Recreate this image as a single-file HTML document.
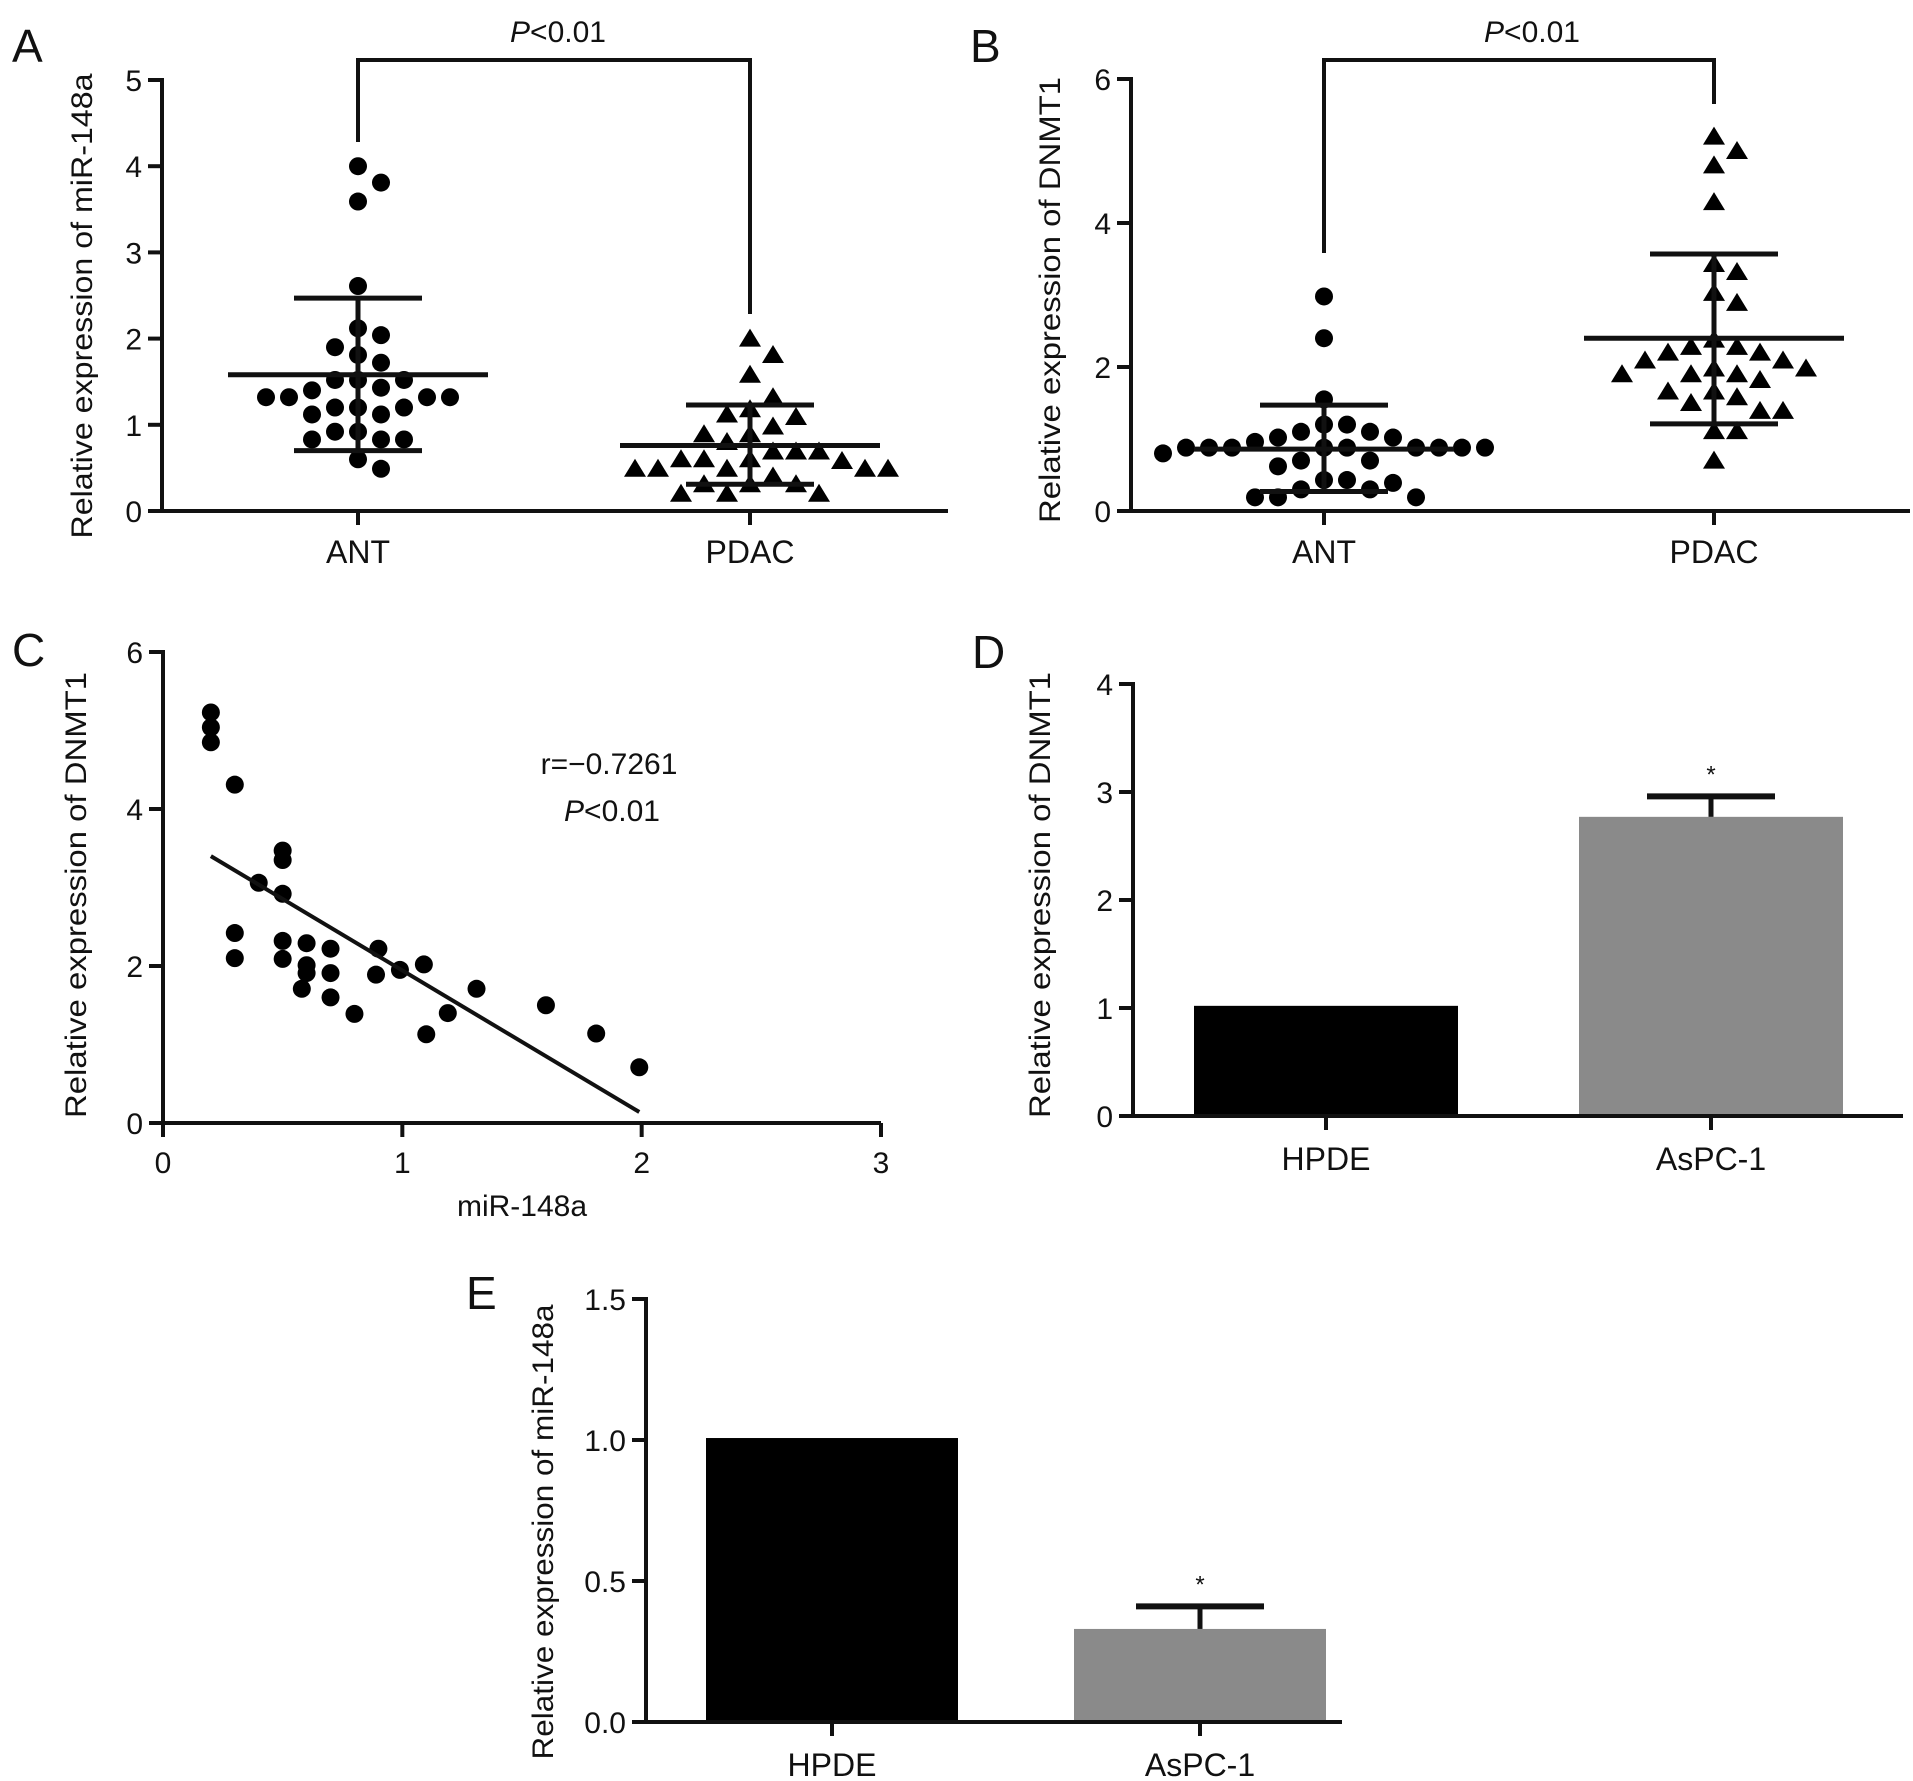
<!DOCTYPE html>
<html><head><meta charset="utf-8"><style>
html,body{margin:0;padding:0;background:#fff;}
svg{display:block;font-family:"Liberation Sans",Arial,sans-serif;}
</style></head><body>
<svg id="fig" width="1913" height="1781" viewBox="0 0 1913 1781" xmlns="http://www.w3.org/2000/svg"></svg>
<script>
// ---------- Panel A data ----------
const aCategories = ["ANT", "PDAC"];
const aAnt = [4.0,3.81,3.59,2.61,2.12,2.04,1.9,1.81,1.72,1.52,1.52,1.52,1.43,1.4,1.32,1.32,1.32,1.32,1.2,1.2,1.2,1.12,1.12,0.92,0.92,0.83,0.83,0.83,0.6,0.49];
const aPdac = [2.0,1.81,1.58,1.32,1.18,1.12,1.09,0.98,0.89,0.89,0.8,0.69,0.69,0.69,0.6,0.6,0.6,0.58,0.49,0.49,0.49,0.49,0.49,0.4,0.31,0.31,0.31,0.2,0.2,0.2];
const aMean = [1.58, 0.76];
const aUpper = [2.47, 1.23];
const aLower = [0.70, 0.31];
const aTicks = [0,1,2,3,4,5];
// ---------- Panel B data ----------
const bCategories = ["ANT", "PDAC"];
const bAnt = [2.98,2.4,1.55,1.2,1.2,1.1,1.1,1.02,1.02,0.96,0.88,0.88,0.88,0.88,0.88,0.88,0.88,0.88,0.88,0.8,0.7,0.7,0.62,0.43,0.43,0.39,0.3,0.3,0.19,0.19,0.19];
const bPdac = [5.2,5.0,4.8,4.29,3.43,3.32,3.03,2.89,2.38,2.28,2.28,2.2,2.2,2.09,2.09,1.98,1.98,1.9,1.9,1.9,1.82,1.66,1.66,1.58,1.5,1.39,1.39,1.11,1.11,0.7];
const bMean = [0.86, 2.40];
const bUpper = [1.47, 3.57];
const bLower = [0.27, 1.21];
const bTicks = [0,2,4,6];
// ---------- Panel C data ----------
const cX = [0.2,0.2,0.2,0.3,0.4,0.5,0.5,0.5,0.3,0.3,0.5,0.5,0.6,0.6,0.6,0.58,0.7,0.7,0.7,0.8,0.9,0.89,0.99,1.09,1.1,1.19,1.31,1.6,1.81,1.99];
const cY = [5.23,5.04,4.85,4.31,3.06,3.47,3.35,2.92,2.42,2.1,2.32,2.09,2.29,2.01,1.91,1.71,2.22,1.91,1.6,1.39,2.22,1.89,1.95,2.02,1.13,1.4,1.71,1.5,1.14,0.71];
const cXTicks = [0,1,2,3];
const cYTicks = [0,2,4,6];
const cFitStart = [0.2, 3.4];
const cFitEnd = [1.99, 0.14];
// ---------- Panel D data ----------
const dCategories = ["HPDE", "AsPC-1"];
const dValues = [1.02, 2.77];
const dErrors = [0, 0.19];
const dTicks = [0,1,2,3,4];
// ---------- Panel E data ----------
const eCategories = ["HPDE", "AsPC-1"];
const eValues = [1.007, 0.33];
const eErrors = [0, 0.08];
const eTicks = [0.0,0.5,1.0,1.5];

const NS = "http://www.w3.org/2000/svg";
const svg = document.getElementById('fig');
function el(tag, attrs, parent){
  const e = document.createElementNS(NS, tag);
  for (const k in attrs) e.setAttribute(k, attrs[k]);
  (parent||svg).appendChild(e);
  return e;
}
function txt(str, x, y, size, anchor, parent, italicPrefix){
  const t = el('text', {x:x, y:y, 'font-size':size, 'text-anchor':anchor||'middle', fill:'#111'}, parent);
  if (italicPrefix){
    const s = document.createElementNS(NS,'tspan'); s.setAttribute('font-style','italic'); s.textContent = italicPrefix; t.appendChild(s);
    t.appendChild(document.createTextNode(str));
  } else t.textContent = str;
  return t;
}
function linear(d0,d1,r0,r1){ return v => r0 + (v-d0)/(d1-d0)*(r1-r0); }

function yAxis(g, axX, yScale, ticks, fmt, top, bottom){
  const ax = el('line', {x1:axX, y1:top-2, x2:axX, y2:bottom+2, stroke:'#111','stroke-width':4}, g);
  
  
  ticks.forEach(t => {
    const y = yScale(t);
    const tk = el('line', {x1:axX-14, y1:y, x2:axX, y2:y, stroke:'#111','stroke-width':4}, g);
    
    
    const lb = txt(fmt(t), axX-20, y+11, 30, 'end', g);
    
    
  });
}
function xAxis(g, axX, x2, y0){
  const ax = el('line', {x1:axX-2, y1:y0, x2:x2, y2:y0, stroke:'#111','stroke-width':4}, g);
  
  
}
function yTitle(g, str, cx, cy, len){
  const t = el('text', {x:0, y:0, 'font-size':30, 'text-anchor':'middle', fill:'#111', transform:`translate(${cx},${cy}) rotate(-90)`, textLength:len, lengthAdjust:'spacingAndGlyphs'}, g);
  t.textContent = str;
  
  
}
function panelLetter(g, s, x, y){
  const t = txt(s, x, y, 46, 'start', g);
  
  
}
function beeswarm(values, cx, yScale, d){
  const idx = values.map((v,i)=>i).sort((a,b)=>values[b]-values[a]);
  const placed = [];
  const out = new Array(values.length);
  idx.forEach(i => {
    const y = yScale(values[i]);
    for (let k=0;k<40;k++){
      const off = k===0?0:(k%2? Math.ceil(k/2): -Math.ceil(k/2))*d;
      const x = cx + off;
      if (placed.every(p => Math.hypot(p[0]-x,p[1]-y) >= d*0.98)){ placed.push([x,y]); out[i]=[x,y]; break; }
    }
  });
  return out;
}
function scatterPanel(cfg){
  const g = el('g', {});
  
  
  const ys = linear(0, cfg.ymax, cfg.y0, cfg.ytop);
  yAxis(g, cfg.axX, ys, cfg.ticks, v=>String(v), cfg.ytop, cfg.y0);
  xAxis(g, cfg.axX, cfg.xEnd, cfg.y0);
  cfg.cats.forEach((c,i) => {
    const x = cfg.catX[i];
    const tk = el('line', {x1:x, y1:cfg.y0, x2:x, y2:cfg.y0+14, stroke:'#111','stroke-width':4}, g);
    
    
    const lb = txt(c, x, cfg.y0+52, 32, 'middle', g);
    
    
  });
  const series = [cfg.s1, cfg.s2];
  series.forEach((vals, si) => {
    const pts = beeswarm(vals, cfg.catX[si], ys, 23);
    pts.forEach(p => {
      let m;
      if (si===0) m = el('circle', {cx:p[0], cy:p[1], r:9, fill:'#000'}, g);
      else m = el('polygon', {points:`${p[0]},${p[1]-10} ${p[0]-11},${p[1]+8} ${p[0]+11},${p[1]+8}`, fill:'#000'}, g);
      
      
    });
  });
  [0,1].forEach(i => {
    const x = cfg.catX[i];
    const v = el('line', {x1:x, y1:ys(cfg.upper[i]), x2:x, y2:ys(cfg.lower[i]), stroke:'#111','stroke-width':5}, g);
    
    
    const mn = el('line', {x1:x-130, y1:ys(cfg.mean[i]), x2:x+130, y2:ys(cfg.mean[i]), stroke:'#111','stroke-width':5}, g);
    
    
    [cfg.upper[i], cfg.lower[i]].forEach(u => {
      const cp = el('line', {x1:x-64, y1:ys(u), x2:x+64, y2:ys(u), stroke:'#111','stroke-width':5}, g);
      
      
    });
  });
  const br = el('polyline', {points:`${cfg.catX[0]},${cfg.brL} ${cfg.catX[0]},60 ${cfg.catX[1]},60 ${cfg.catX[1]},${cfg.brR}`, fill:'none', stroke:'#111','stroke-width':4}, g);
  
  
  const p = txt('<0.01', cfg.pX, 42, 30, 'middle', g, 'P');
  
  
  yTitle(g, cfg.title, cfg.titleX, cfg.titleY, cfg.titleLen);
  panelLetter(g, cfg.letter, cfg.letterX, 62);
}
scatterPanel({name:'panel-a', letter:'A', letterX:12, axX:162, ymax:5, y0:511, ytop:80, xEnd:948, catX:[358,750], cats:aCategories,
  s1:aAnt, s2:aPdac, mean:aMean, upper:aUpper, lower:aLower, ticks:aTicks, brL:142, brR:314, pX:558,
  title:'Relative expression of miR-148a', titleX:92, titleY:306, titleLen:465});
scatterPanel({name:'panel-b', letter:'B', letterX:970, axX:1131, ymax:6, y0:511, ytop:79, xEnd:1910, catX:[1324,1714], cats:bCategories,
  s1:bAnt, s2:bPdac, mean:bMean, upper:bUpper, lower:bLower, ticks:bTicks, brL:253, brR:104, pX:1532,
  title:'Relative expression of DNMT1', titleX:1060, titleY:300, titleLen:446});

(function(){
  const g = el('g', {});
  
  
  const axX=163, y0=1123, ytop=652, xEnd=881;
  const xs = linear(0,3,axX,xEnd), ys = linear(0,6,y0,ytop);
  yAxis(g, axX, ys, cYTicks, v=>String(v), ytop, y0);
  xAxis(g, axX, xEnd, y0);
  cXTicks.forEach(t => {
    const x = xs(t);
    const tk = el('line', {x1:x, y1:y0, x2:x, y2:y0+14, stroke:'#111','stroke-width':4}, g);
    
    
    const lb = txt(String(t), x, y0+50, 30, 'middle', g);
    
    
  });
  cX.forEach((xv,i) => {
    const c = el('circle', {cx:xs(xv), cy:ys(cY[i]), r:9, fill:'#000'}, g);
    
    
  });
  const fit = el('line', {x1:xs(cFitStart[0]), y1:ys(cFitStart[1]), x2:xs(cFitEnd[0]), y2:ys(cFitEnd[1]), stroke:'#111','stroke-width':4}, g);
  
  
  const r = txt('r=\u22120.7261', 609, 774, 30, 'middle', g);
  
  
  const p = txt('<0.01', 612, 821, 30, 'middle', g, 'P');
  
  
  const xt = txt('miR-148a', 522, 1216, 30, 'middle', g);
  
  
  yTitle(g, 'Relative expression of DNMT1', 86, 895, 446);
  panelLetter(g, 'C', 12, 666);
})();

function barPanel(cfg){
  const g = el('g', {});
  
  
  const ys = linear(0, cfg.ymax, cfg.y0, cfg.ytop);
  cfg.values.forEach((v,i) => {
    const cx = cfg.catX[i];
    const b = el('rect', {x:cx-cfg.bw/2, y:ys(v), width:cfg.bw, height:cfg.y0-ys(v), fill:cfg.colors[i]}, g);
    
    
    if (cfg.errors[i] > 0){
      const top = ys(v+cfg.errors[i]);
      const e1 = el('line', {x1:cx, y1:ys(v), x2:cx, y2:top, stroke:'#111','stroke-width':5}, g);
      
      
      const e2 = el('line', {x1:cx-64, y1:top, x2:cx+64, y2:top, stroke:'#111','stroke-width':6}, g);
      
      
      const st = txt('*', cx, top-14, 24, 'middle', g);
      
      
    }
  });
  yAxis(g, cfg.axX, ys, cfg.ticks, cfg.fmt, cfg.ytop, cfg.y0);
  xAxis(g, cfg.axX, cfg.xEnd, cfg.y0);
  cfg.cats.forEach((c,i) => {
    const x = cfg.catX[i];
    const tk = el('line', {x1:x, y1:cfg.y0, x2:x, y2:cfg.y0+14, stroke:'#111','stroke-width':4}, g);
    
    
    const lb = txt(c, x, cfg.y0+54, 32, 'middle', g);
    
    
  });
  yTitle(g, cfg.title, cfg.titleX, cfg.titleY, cfg.titleLen);
  panelLetter(g, cfg.letter, cfg.letterX, cfg.letterY);
}
barPanel({name:'panel-d', letter:'D', letterX:972, letterY:668, axX:1133, ymax:4, y0:1116, ytop:684, xEnd:1903,
  catX:[1326,1711], bw:264, values:dValues, errors:dErrors, cats:dCategories, colors:['#000','#8a8a8a'],
  ticks:dTicks, fmt:v=>String(v), title:'Relative expression of DNMT1', titleX:1050, titleY:895, titleLen:446});
barPanel({name:'panel-e', letter:'E', letterX:466, letterY:1309, axX:646, ymax:1.5, y0:1722, ytop:1299, xEnd:1342,
  catX:[832,1200], bw:252, values:eValues, errors:eErrors, cats:eCategories, colors:['#000','#8a8a8a'],
  ticks:eTicks, fmt:v=>v.toFixed(1), title:'Relative expression of miR-148a', titleX:553, titleY:1532, titleLen:455});
</script>
</body></html>
